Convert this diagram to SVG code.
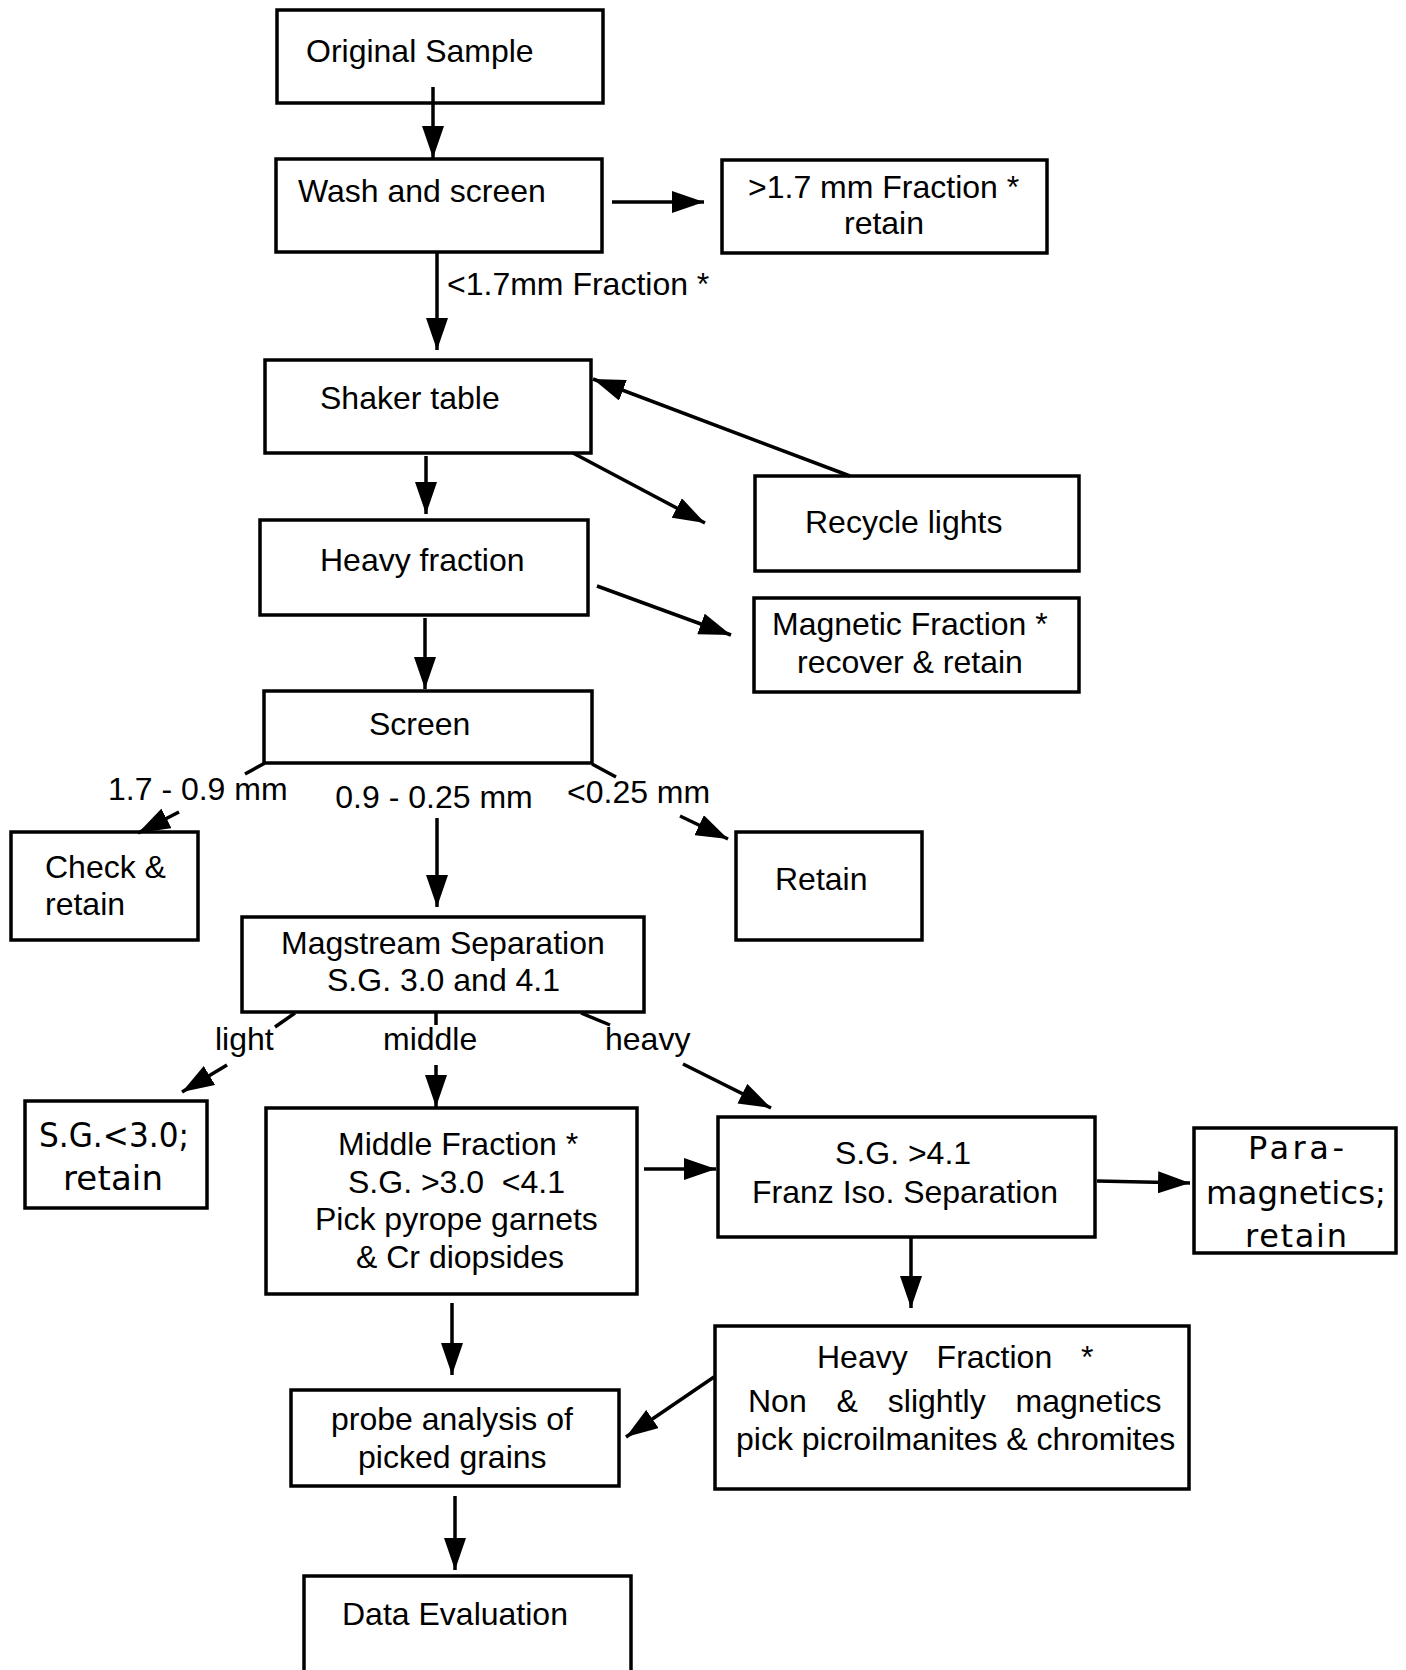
<svg xmlns="http://www.w3.org/2000/svg" width="1406" height="1670" viewBox="0 0 1406 1670">
<defs>
<marker id="ah" markerUnits="userSpaceOnUse" markerWidth="32" markerHeight="22" refX="32" refY="11" orient="auto">
<path d="M0,0 L32,11 L0,22 Z" fill="#000"/>
</marker>
<style>
.box{fill:#fff;stroke:#000;stroke-width:3.5}
.t{font-family:"Liberation Sans",Arial,sans-serif;font-size:32px;fill:#000}
.g{font-family:"DejaVu Sans",Verdana,sans-serif;fill:#000}
.c{text-anchor:middle}
.ln{stroke:#000;stroke-width:3.5;fill:none}
.ar{stroke:#000;stroke-width:3.5;fill:none;marker-end:url(#ah)}
</style>
</defs>
<rect width="1406" height="1670" fill="#fff"/>

<g id="n-original">
<rect class="box" x="277" y="10" width="326" height="93"/>
<text class="t" x="306" y="62">Original Sample</text>
</g>
<g id="n-wash">
<rect class="box" x="276" y="159" width="326" height="93"/>
<text class="t" x="298" y="202">Wash and screen</text>
</g>
<g id="n-coarse">
<rect class="box" x="722" y="160" width="325" height="93"/>
<text class="t" x="748" y="198">&gt;1.7 mm Fraction *</text>
<text class="t c" x="884" y="234">retain</text>
</g>
<g id="n-shaker">
<rect class="box" x="265" y="360" width="326" height="93"/>
<text class="t" x="320" y="409">Shaker table</text>
</g>
<g id="n-recycle">
<rect class="box" x="755" y="476" width="324" height="95"/>
<text class="t" x="805" y="533">Recycle lights</text>
</g>
<g id="n-heavy">
<rect class="box" x="260" y="520" width="328" height="95"/>
<text class="t" x="320" y="571">Heavy fraction</text>
</g>
<g id="n-magnetic">
<rect class="box" x="754" y="598" width="325" height="94"/>
<text class="t" x="772" y="635">Magnetic Fraction *</text>
<text class="t" x="797" y="673">recover &amp; retain</text>
</g>
<g id="n-screen">
<rect class="box" x="264" y="691" width="328" height="72"/>
<text class="t" x="369" y="735">Screen</text>
</g>
<g id="n-check">
<rect class="box" x="11" y="832" width="187" height="108"/>
<text class="t" x="45" y="878">Check &amp;</text>
<text class="t" x="45" y="915">retain</text>
</g>
<g id="n-retain">
<rect class="box" x="736" y="832" width="186" height="108"/>
<text class="t" x="775" y="890">Retain</text>
</g>
<g id="n-magstream">
<rect class="box" x="242" y="917" width="402" height="95"/>
<text class="t" x="281" y="954">Magstream Separation</text>
<text class="t" x="327" y="991">S.G. 3.0 and 4.1</text>
</g>
<g id="n-light">
<rect class="box" x="25" y="1101" width="182" height="107"/>
<text class="g" x="39" y="1147" font-size="34" textLength="150" lengthAdjust="spacingAndGlyphs">S.G.&lt;3.0;</text>
<text class="g" x="63" y="1190" font-size="34" textLength="100" lengthAdjust="spacing">retain</text>
</g>
<g id="n-middle">
<rect class="box" x="266" y="1108" width="371" height="186"/>
<text class="t" x="338" y="1155">Middle Fraction *</text>
<text class="t" x="348" y="1193" xml:space="preserve">S.G. &gt;3.0  &lt;4.1</text>
<text class="t" x="315" y="1230">Pick pyrope garnets</text>
<text class="t" x="356" y="1268">&amp; Cr diopsides</text>
</g>
<g id="n-franz">
<rect class="box" x="718" y="1117" width="377" height="120"/>
<text class="t" x="835" y="1164">S.G. &gt;4.1</text>
<text class="t" x="752" y="1203">Franz Iso. Separation</text>
</g>
<g id="n-para">
<rect class="box" x="1194" y="1128" width="202" height="125"/>
<text class="g" x="1248" y="1159" font-size="32" textLength="96" lengthAdjust="spacing">Para-</text>
<text class="g" x="1206" y="1204" font-size="32" textLength="180" lengthAdjust="spacingAndGlyphs">magnetics;</text>
<text class="g" x="1245" y="1247" font-size="32" textLength="102" lengthAdjust="spacing">retain</text>
</g>
<g id="n-heavyfrac">
<rect class="box" x="715" y="1326" width="474" height="163"/>
<text class="t" x="817" y="1368" style="word-spacing:20px">Heavy Fraction *</text>
<text class="t" x="748" y="1412" style="word-spacing:21px">Non &amp; slightly magnetics</text>
<text class="t" x="736" y="1450">pick picroilmanites &amp; chromites</text>
</g>
<g id="n-probe">
<rect class="box" x="291" y="1390" width="328" height="96"/>
<text class="t" x="331" y="1430">probe analysis of</text>
<text class="t" x="358" y="1468">picked grains</text>
</g>
<g id="n-data">
<rect class="box" x="304" y="1576" width="327" height="110"/>
<text class="t" x="342" y="1625">Data Evaluation</text>
</g>

<g id="connectors">
<line class="ar" x1="433" y1="87" x2="433" y2="158"/>
<line class="ar" x1="612" y1="202" x2="704" y2="202"/>
<line class="ar" x1="437" y1="252" x2="437" y2="350"/>
<line class="ar" x1="426" y1="456" x2="426" y2="514"/>
<line class="ar" x1="573" y1="453" x2="705" y2="523"/>
<line class="ar" x1="850" y1="476" x2="593" y2="379"/>
<line class="ar" x1="597" y1="586" x2="731" y2="635"/>
<line class="ar" x1="425" y1="618" x2="425" y2="689"/>
<line class="ln" x1="265" y1="763" x2="245" y2="774"/>
<line class="ln" x1="592" y1="764" x2="616" y2="777"/>
<line class="ar" x1="179" y1="812" x2="138" y2="833"/>
<line class="ar" x1="437" y1="818" x2="437" y2="907"/>
<line class="ar" x1="680" y1="816" x2="728" y2="839"/>
<line class="ln" x1="295" y1="1013" x2="275" y2="1027"/>
<line class="ln" x1="436" y1="1012" x2="436" y2="1025"/>
<line class="ln" x1="581" y1="1013" x2="610" y2="1025"/>
<line class="ar" x1="227" y1="1065" x2="182" y2="1092"/>
<line class="ar" x1="436" y1="1065" x2="436" y2="1107"/>
<line class="ar" x1="683" y1="1064" x2="771" y2="1108"/>
<line class="ar" x1="644" y1="1169" x2="716" y2="1169"/>
<line class="ar" x1="1097" y1="1181" x2="1190" y2="1183"/>
<line class="ar" x1="911" y1="1238" x2="911" y2="1308"/>
<line class="ar" x1="452" y1="1303" x2="452" y2="1375"/>
<line class="ar" x1="714" y1="1377" x2="626" y2="1437"/>
<line class="ar" x1="455" y1="1496" x2="455" y2="1570"/>
<text class="t" x="447" y="295">&lt;1.7mm Fraction *</text>
<text class="t" x="108" y="800">1.7 - 0.9 mm</text>
<text class="t c" x="434" y="808">0.9 - 0.25 mm</text>
<text class="t" x="567" y="803">&lt;0.25 mm</text>
<text class="t" x="215" y="1050">light</text>
<text class="t" x="383" y="1050">middle</text>
<text class="t" x="605" y="1050">heavy</text>
</g>
</svg>
